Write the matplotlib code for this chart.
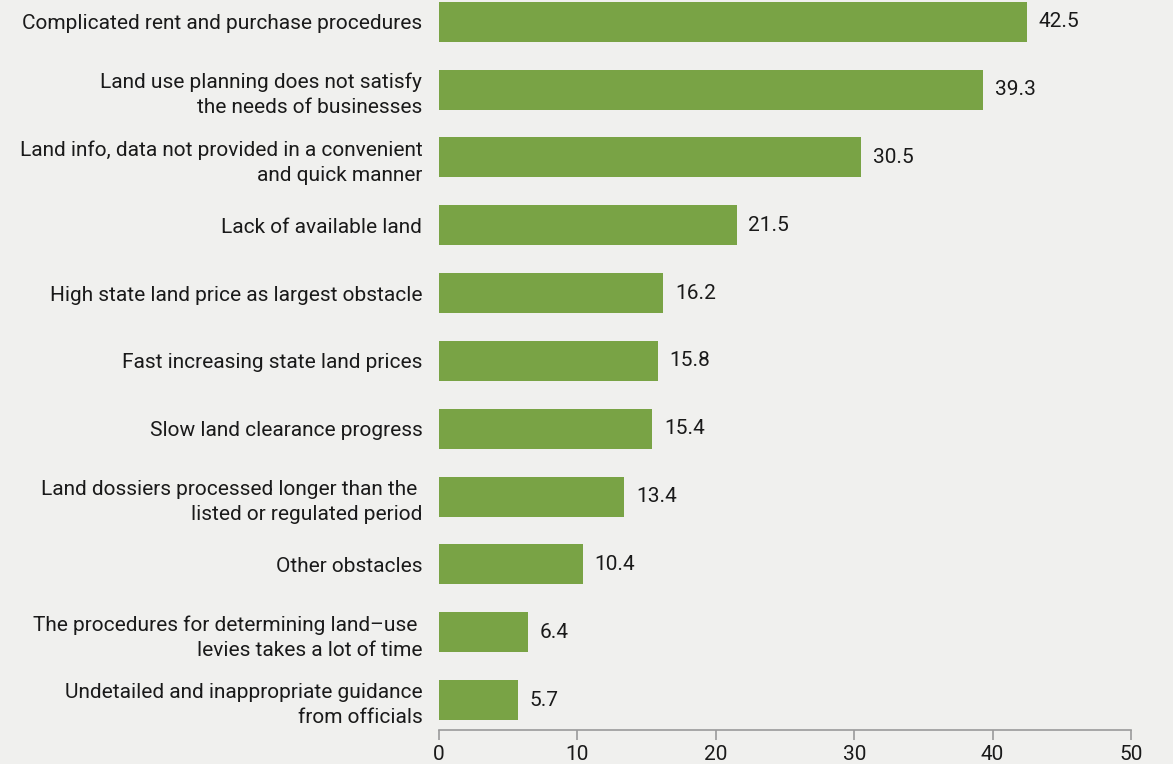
import matplotlib.pyplot as plt
from matplotlib import font_manager

CATEGORIES = [
    "Complicated rent and purchase procedures",
    "Land use planning does not satisfy\nthe needs of businesses",
    "Land info, data not provided in a convenient\nand quick manner",
    "Lack of available land",
    "High state land price as largest obstacle",
    "Fast increasing state land prices",
    "Slow land clearance progress",
    "Land dossiers processed longer than the \nlisted or regulated period",
    "Other obstacles",
    "The procedures for determining land\u2013use \nlevies takes a lot of time",
    "Undetailed and inappropriate guidance\nfrom officials",
]
VALUES = [42.5, 39.3, 30.5, 21.5, 16.2, 15.8, 15.4, 13.4, 10.4, 6.4, 5.7]
X_TICKS = [0, 10, 20, 30, 40, 50]

BG = "#f0f0ee"
GREEN = "#79a345"

names = {f.name for f in font_manager.fontManager.ttflist}
family = [f for f in ["Liberation Sans Narrow", "Roboto", "DejaVu Sans"] if f in names]
plt.rcParams["font.family"] = family

fig = plt.figure(figsize=(11.73, 7.64), dpi=100, facecolor=BG)
ax = fig.add_axes([439 / 1173, 34 / 764, 692 / 1173, 730 / 764])
ax.set_facecolor(BG)

ypos = list(range(len(VALUES)))
ax.barh(ypos, VALUES, height=0.59, color=GREEN)
for y, v in zip(ypos, VALUES):
    ax.text(v + 0.85, y, f"{v}", va="center", ha="left", fontsize=15, color="#1a1a1a")

ax.set_xlim(0, 50)
ax.set_ylim(10.44, -0.32)
ax.set_yticks(ypos)
ax.set_yticklabels(CATEGORIES, fontsize=15, color="#1a1a1a", linespacing=1.4)
ax.tick_params(axis="y", length=0, pad=12)
ax.set_xticks(X_TICKS)
ax.set_xticklabels([str(t) for t in X_TICKS], fontsize=15, color="#1a1a1a")
ax.tick_params(axis="x", length=7, color="#9a9a9a", width=1.2, pad=4)

for side in ["top", "right", "left"]:
    ax.spines[side].set_visible(False)
ax.spines["bottom"].set_color("#9a9a9a")
ax.spines["bottom"].set_linewidth(1.2)

fig.savefig("out.png", dpi=100, facecolor=BG)
